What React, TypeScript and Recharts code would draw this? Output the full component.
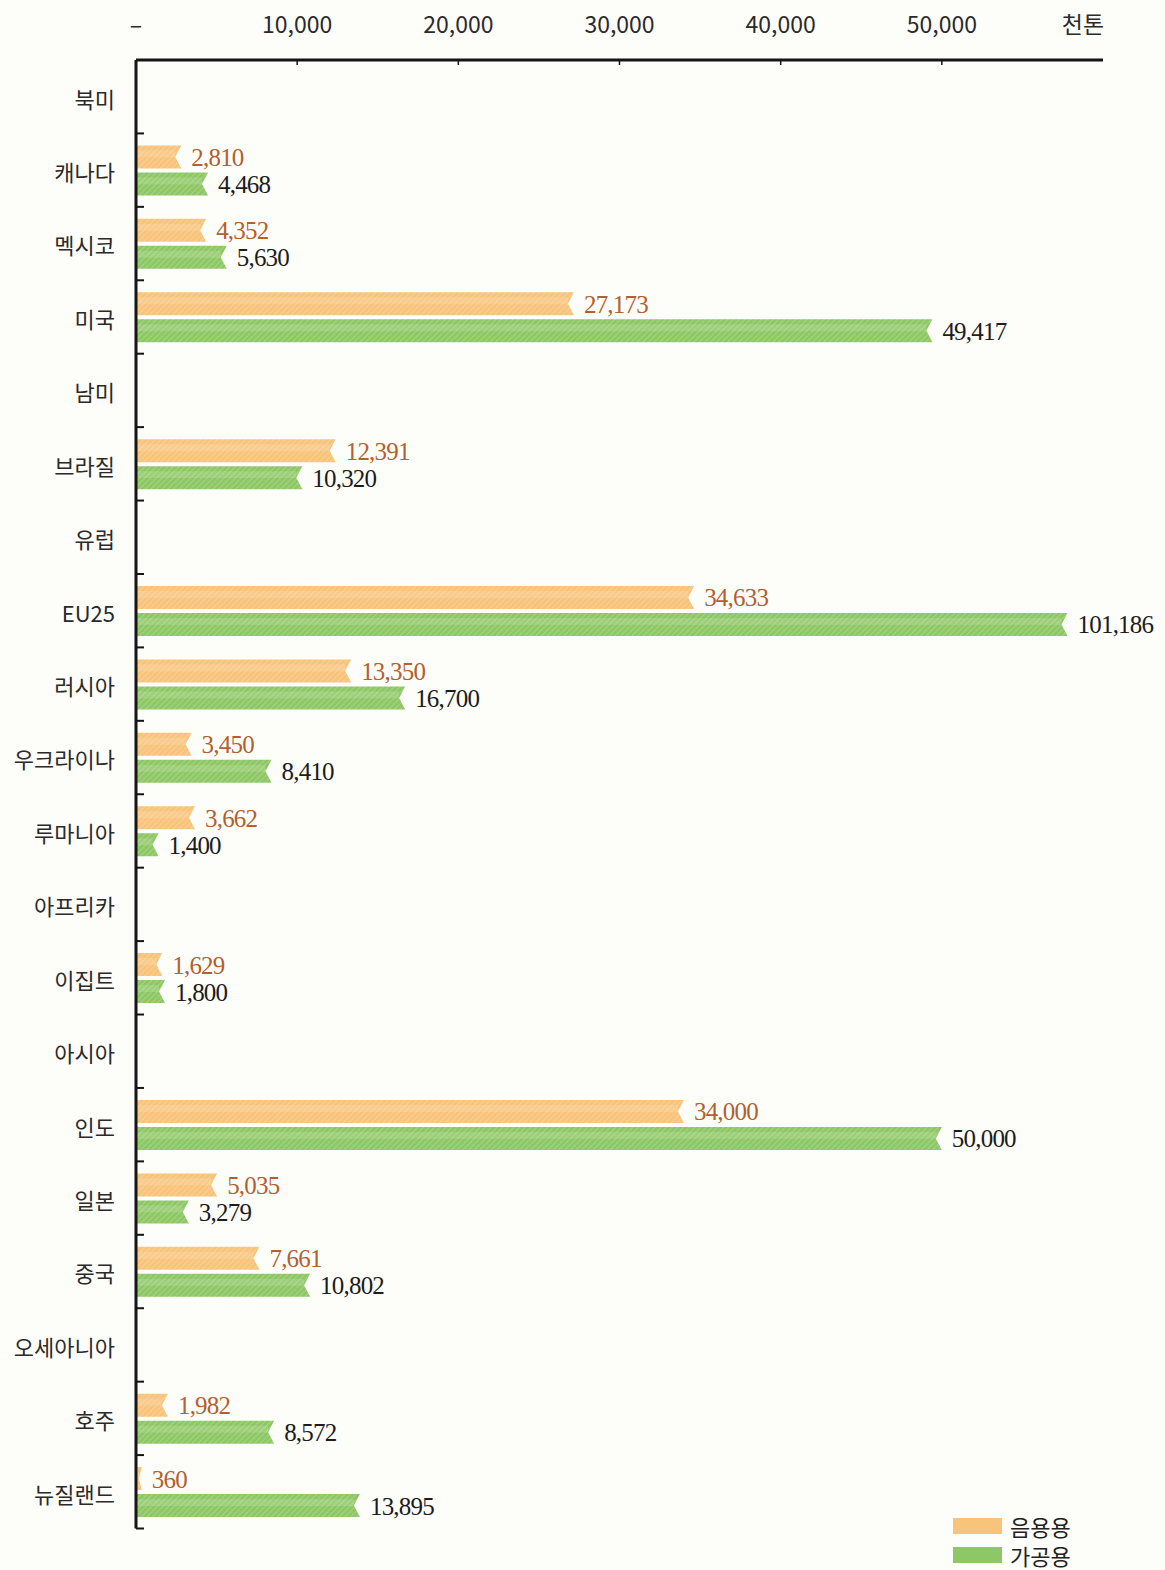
import React from 'react';
import { BarChart, Bar, XAxis, YAxis, LabelList } from 'recharts';

// 지역별 우유 소비 (천톤)
const regions = [
  '북미', '캐나다', '멕시코', '미국', '남미', '브라질', '유럽', 'EU25', '러시아', '우크라이나',
  '루마니아', '아프리카', '이집트', '아시아', '인도', '일본', '중국', '오세아니아', '호주', '뉴질랜드',
];
const drinking = [
  null, 2810, 4352, 27173, null, 12391, null, 34633, 13350, 3450,
  3662, null, 1629, null, 34000, 5035, 7661, null, 1982, 360,
];
const processing = [
  null, 4468, 5630, 49417, null, 10320, null, 101186, 16700, 8410,
  1400, null, 1800, null, 50000, 3279, 10802, null, 8572, 13895,
];
const xTicks = [0, 10000, 20000, 30000, 40000, 50000, 60000];
const xTickLabels = ['–', '10,000', '20,000', '30,000', '40,000', '50,000', '천톤'];
const legendLabels = ['음용용', '가공용'];

// bars running past the frame (EU25) are cut here
const VISIBLE_MAX = 57800;

const data = regions.map((name, i) => ({
  name,
  drinking: drinking[i],
  processing: processing[i],
}));

const W = 1165;
const H = 1570;
const SANS = '"Noto Sans CJK KR", "Noto Sans", sans-serif';
const SERIF = '"Liberation Serif", "DejaVu Serif", serif';
const ORANGE = '#f8c47c';
const GREEN = '#8ec766';
const ORANGE_TEXT = '#b45f2e';
const AXIS = '#151515';

const capped = (key: 'drinking' | 'processing') => (d: any) =>
  d[key] == null ? null : Math.min(d[key], VISIBLE_MAX);

const NotchedBar = (props: any) => {
  const { x, y, width, height, fill } = props;
  if (!width || width <= 0) return null;
  const d = Math.min(6, width / 2);
  const pts = [
    [x, y], [x + width, y], [x + width - d, y + height / 2], [x + width, y + height], [x, y + height],
  ].map((p) => p.join(',')).join(' ');
  return (
    <g>
      <polygon points={pts} fill={fill} />
      <rect x={x} y={y + height * 0.22} width={Math.max(0, width - d)} height={height * 0.3} fill="#fff" opacity={0.14} />
    </g>
  );
};

const makeLabel = (color: string) => (p: any) => {
  const v = p.value;
  if (v == null || Number.isNaN(Number(v))) return null;
  return (
    <text
      x={p.x + p.width + 10}
      y={p.y + p.height / 2}
      dy="0.36em"
      fill={color}
      fontFamily={SERIF}
      fontSize={25}
      letterSpacing={-0.8}
    >
      {Number(v).toLocaleString('en-US')}
    </text>
  );
};

const XTick = (props: any) => {
  const { x, y, payload } = props;
  const i = xTicks.indexOf(payload.value);
  const last = i === xTicks.length - 1;
  return (
    <g>
      {i > 0 && !last && <line x1={x} x2={x} y1={y} y2={y + 5} stroke={AXIS} strokeWidth={1.5} />}
      <text
        x={last ? x - 20 : x}
        y={y - 27}
        textAnchor="middle"
        fill="#2a2a2a"
        fontFamily={SANS}
        fontSize={23}
      >
        {xTickLabels[i]}
      </text>
    </g>
  );
};

const CategoryTick = (props: any) => {
  const { x, y, payload } = props;
  const half = payload.offset ?? (H - 60 - 41.5) / regions.length / 2;
  return (
    <g>
      <line x1={x} x2={x + 8} y1={y + half} y2={y + half} stroke={AXIS} strokeWidth={2} />
      <text x={x - 21} y={y + 3} dy="0.36em" textAnchor="end" fill="#2a2a2a" fontFamily={SANS} fontSize={22}>
        {payload.value}
      </text>
    </g>
  );
};

export default function App() {
  return (
    <div style={{ position: 'absolute', left: 0, top: 0, width: W, height: H, background: '#fdfdfa' }}>
      <svg width={0} height={0} style={{ position: 'absolute' }}>
        <defs>
          <pattern id="hatchO" width="4" height="4" patternUnits="userSpaceOnUse" patternTransform="rotate(45)">
            <rect width="4" height="4" fill={ORANGE} />
            <line x1="0" y1="0" x2="0" y2="4" stroke="#fbd49e" strokeWidth="1.4" />
          </pattern>
          <pattern id="hatchG" width="4" height="4" patternUnits="userSpaceOnUse" patternTransform="rotate(45)">
            <rect width="4" height="4" fill={GREEN} />
            <line x1="0" y1="0" x2="0" y2="4" stroke="#b0da8e" strokeWidth="1.4" />
          </pattern>
        </defs>
      </svg>
      <BarChart
        width={W}
        height={H}
        data={data}
        layout="vertical"
        margin={{ top: 0, right: 62, bottom: 41.5, left: 0 }}
        barSize={23}
        barGap={4}
      >
        <XAxis
          type="number"
          orientation="top"
          domain={[0, 60000]}
          ticks={xTicks}
          interval={0}
          height={60}
          tickSize={0}
          tickMargin={0}
          tickLine={false}
          axisLine={{ stroke: AXIS, strokeWidth: 3 }}
          tick={<XTick />}
        />
        <YAxis
          type="category"
          dataKey="name"
          width={136}
          interval={0}
          tickSize={0}
          tickMargin={0}
          tickLine={false}
          axisLine={{ stroke: AXIS, strokeWidth: 3 }}
          tick={<CategoryTick />}
        />
        <Bar dataKey={capped('drinking')} fill="url(#hatchO)" shape={<NotchedBar />} isAnimationActive={false}>
          <LabelList dataKey="drinking" content={makeLabel(ORANGE_TEXT)} />
        </Bar>
        <Bar dataKey={capped('processing')} fill="url(#hatchG)" shape={<NotchedBar />} isAnimationActive={false}>
          <LabelList dataKey="processing" content={makeLabel('#1c1c1c')} />
        </Bar>
      </BarChart>
      <div style={{ position: 'absolute', left: 953, top: 1511, fontFamily: SANS, fontSize: 22, color: '#222' }}>
        {legendLabels.map((label, i) => (
          <div key={label} style={{ display: 'flex', alignItems: 'center', height: 29 }}>
            <div style={{ width: 49, height: 16, background: i === 0 ? ORANGE : GREEN, marginRight: 8 }} />
            <span style={{ lineHeight: '22px', display: 'block' }}>{label}</span>
          </div>
        ))}
      </div>
    </div>
  );
}
